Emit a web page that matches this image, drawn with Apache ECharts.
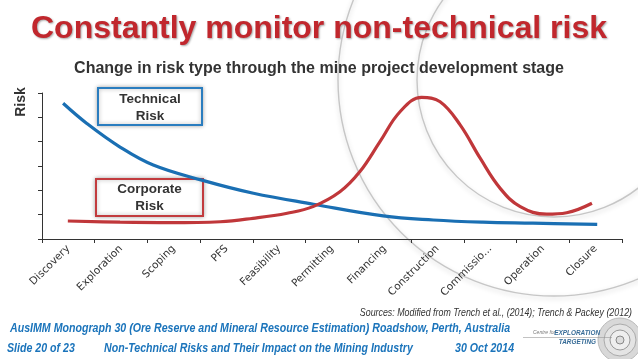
<!DOCTYPE html>
<html>
<head>
<meta charset="utf-8">
<script src="https://cdn.jsdelivr.net/npm/echarts@6/dist/echarts.min.js"></script>
<style>
html,body{margin:0;padding:0;background:#fff;}
#chart{width:638px;height:359px;}
</style>
</head>
<body>
<div id="chart"></div>
<script>
// Categories (project stages)
var stages = ['Discovery','Exploration','Scoping','PFS','Feasibility','Permitting','Financing','Construction','Commissio...','Operation','Closure'];
// Y axis ticks (no labels shown): 0..6
var riskTicks = [0,1,2,3,4,5,6];
// Technical risk curve, [stage position, risk level]
var technicalRisk = [[0.40,5.58],[0.85,4.75],[1.48,3.78],[2.11,3.04],[3.03,2.42],[4.01,1.88],[5.15,1.43],[6.47,0.95],[7.42,0.78],[8.36,0.69],[9.31,0.65],[10.53,0.60]];
// Corporate risk curve
var corporateRisk = [[0.49,0.74],[1.48,0.69],[2.43,0.67],[3.38,0.71],[4.00,0.85],[4.65,1.06],[5.14,1.33],[5.65,1.94],[6.03,2.77],[6.41,4.00],[6.79,5.23],[7.20,5.82],[7.55,5.64],[7.93,4.69],[8.31,3.32],[8.69,2.08],[9.07,1.33],[9.57,1.02],[9.95,1.08],[10.43,1.47]];

var chart = echarts.init(document.getElementById('chart'));
var axisColor = '#333';
var blue = '#1a6fb3';
var red = '#c0373a';
var footBlue = '#1b74bb';
var footFont = 'italic bold 12px "Liberation Sans"';
var footScale = 0.885;

chart.setOption({
  animation: false,
  backgroundColor: '#fff',
  title: [
    {text: 'Constantly monitor non-technical risk', left: 'center', top: 13, padding: 0,
     textStyle: {fontFamily: 'Liberation Sans', fontSize: 32, fontWeight: 'bold', color: '#c1272d',
       textShadowColor: 'rgba(0,0,0,0.35)', textShadowBlur: 2, textShadowOffsetX: 1, textShadowOffsetY: 1}},
    {text: 'Change in risk type through the mine project development stage', left: 'center', top: 61, padding: 0,
     textStyle: {fontFamily: 'Liberation Sans', fontSize: 16, fontWeight: 'bold', color: '#333'}}
  ],
  grid: {left: 42, right: 16, top: 93, bottom: 120, containLabel: false},
  xAxis: [
    {type: 'category', data: stages, boundaryGap: true,
     axisLine: {lineStyle: {color: axisColor, width: 1}},
     axisTick: {show: true, length: 4, lineStyle: {color: axisColor}},
     axisLabel: {rotate: 45, margin: 8, fontFamily: 'DejaVu Sans', fontSize: 10.5, color: '#333', interval: 0},
     splitLine: {show: false}},
    {type: 'value', min: 0, max: 11, show: false}
  ],
  yAxis: {type: 'value', min: riskTicks[0], max: riskTicks[riskTicks.length-1], interval: 1,
    axisLine: {show: true, lineStyle: {color: axisColor, width: 1}},
    axisTick: {show: true, length: 4, lineStyle: {color: axisColor}},
    axisLabel: {show: false}, splitLine: {show: false}},
  series: [
    {name: 'Technical Risk', type: 'line', xAxisIndex: 1, data: technicalRisk, smooth: 0.4, showSymbol: false,
     lineStyle: {color: blue, width: 3.2}, z: 3},
    {name: 'Corporate Risk', type: 'line', xAxisIndex: 1, data: corporateRisk, smooth: 0.4, showSymbol: false,
     lineStyle: {color: red, width: 3.2}, z: 4}
  ],
  graphic: [
    // background target arcs
    {type: 'circle', z: -10, shape: {cx: 554, cy: 80, r: 216}, style: {fill: 'none', stroke: '#c6c6c6', lineWidth: 1.4, shadowBlur: 5, shadowColor: 'rgba(0,0,0,0.18)', shadowOffsetY: 2}, silent: true},
    {type: 'circle', z: -10, shape: {cx: 554, cy: 80, r: 137}, style: {fill: 'none', stroke: '#c6c6c6', lineWidth: 1.4, shadowBlur: 5, shadowColor: 'rgba(0,0,0,0.18)', shadowOffsetY: 2}, silent: true},
    // y axis name
    {type: 'text', x: 21, y: 102, rotation: Math.PI/2, z: 10,
     style: {text: 'Risk', font: 'bold 14px "Liberation Sans"', fill: '#333', align: 'center', verticalAlign: 'middle'}},
    // legend-like boxes
    {type: 'rect', z: 1, shape: {x: 98, y: 88, width: 104, height: 37},
     style: {fill: '#fff', stroke: '#2a7dbf', lineWidth: 2, shadowBlur: 4, shadowColor: 'rgba(0,0,0,0.3)'}},
    {type: 'text', z: 2, x: 150, y: 107.5,
     style: {text: 'Technical\nRisk', font: 'bold 13.5px "Liberation Sans"', lineHeight: 17, fill: '#333', align: 'center', verticalAlign: 'middle'}},
    {type: 'rect', z: 1, shape: {x: 96, y: 179, width: 107, height: 37},
     style: {fill: '#fff', stroke: '#c23b3e', lineWidth: 2, shadowBlur: 4, shadowColor: 'rgba(0,0,0,0.3)'}},
    {type: 'text', z: 2, x: 149.5, y: 197.5,
     style: {text: 'Corporate\nRisk', font: 'bold 13.5px "Liberation Sans"', lineHeight: 17, fill: '#333', align: 'center', verticalAlign: 'middle'}},
    // sources
    {type: 'text', z: 10, x: 632, y: 313, scaleX: 0.885,
     style: {text: 'Sources: Modified from Trench et al., (2014); Trench & Packey (2012)', font: 'italic 10px "Liberation Sans"', fill: '#333', align: 'right', verticalAlign: 'middle'}},
    // footer
    {type: 'text', z: 10, x: 10, y: 329, scaleX: footScale,
     style: {text: 'AusIMM Monograph 30 (Ore Reserve and Mineral Resource Estimation) Roadshow, Perth, Australia', font: footFont, fill: footBlue, align: 'left', verticalAlign: 'middle'}},
    {type: 'text', z: 10, x: 7, y: 349, scaleX: footScale,
     style: {text: 'Slide 20 of 23', font: footFont, fill: footBlue, align: 'left', verticalAlign: 'middle'}},
    {type: 'text', z: 10, x: 104, y: 349, scaleX: footScale,
     style: {text: 'Non-Technical Risks and Their Impact on the Mining Industry', font: footFont, fill: footBlue, align: 'left', verticalAlign: 'middle'}},
    {type: 'text', z: 10, x: 455, y: 349, scaleX: footScale,
     style: {text: '30 Oct 2014', font: footFont, fill: footBlue, align: 'left', verticalAlign: 'middle'}},
    // logo
    {type: 'circle', z: 5, shape: {cx: 620, cy: 340, r: 22}, style: {fill: '#d8d8d8', stroke: '#bbb', lineWidth: 1}},
    {type: 'circle', z: 5, shape: {cx: 620, cy: 340, r: 16}, style: {fill: '#e4e4e4', stroke: '#aaa', lineWidth: 1}},
    {type: 'circle', z: 5, shape: {cx: 620, cy: 340, r: 10}, style: {fill: '#eee', stroke: '#999', lineWidth: 1}},
    {type: 'circle', z: 5, shape: {cx: 620, cy: 340, r: 4}, style: {fill: '#ddd', stroke: '#888', lineWidth: 1}},
    {type: 'line', z: 6, shape: {x1: 523, y1: 337.5, x2: 612, y2: 337.5}, style: {stroke: '#999', lineWidth: 0.6}},
    {type: 'text', z: 7, x: 533, y: 333,
     style: {text: 'Centre for', font: 'italic 5px "Liberation Sans"', fill: '#777', align: 'left', verticalAlign: 'middle'}},
    {type: 'text', z: 7, x: 600, y: 333, scaleX: 0.8,
     style: {text: 'EXPLORATION', font: 'italic bold 8px "Liberation Sans"', fill: '#356a96', align: 'right', verticalAlign: 'middle'}},
    {type: 'text', z: 7, x: 596, y: 342, scaleX: 0.8,
     style: {text: 'TARGETING', font: 'italic bold 8px "Liberation Sans"', fill: '#356a96', align: 'right', verticalAlign: 'middle'}}
  ]
});
</script>
</body>
</html>
